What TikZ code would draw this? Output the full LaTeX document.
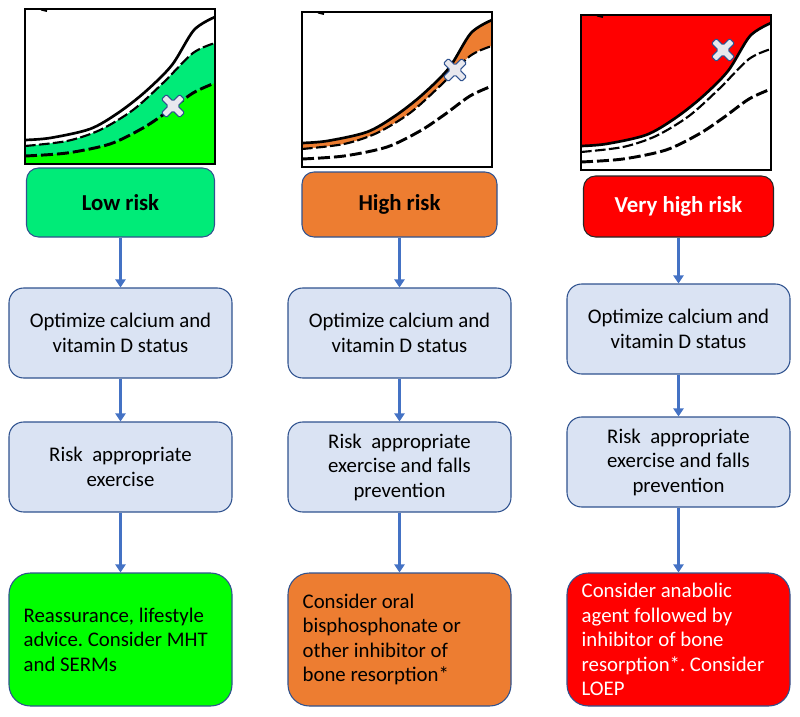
\documentclass[tikz,border=0pt]{standalone}
\usepackage{fontspec}
\setmainfont{Carlito}
\usetikzlibrary{arrows.meta}
\frenchspacing
\hyphenpenalty=10000

\definecolor{boxfill}{RGB}{218,227,243}
\definecolor{boxline}{RGB}{47,82,143}
\definecolor{flowblue}{RGB}{68,114,196}
\definecolor{lowgreen}{RGB}{0,235,120}
\definecolor{limegreen}{RGB}{0,255,0}
\definecolor{highorange}{RGB}{237,125,49}
\definecolor{veryred}{RGB}{255,0,0}
\definecolor{crossfill}{RGB}{232,232,238}

\begin{document}
\begin{tikzpicture}[x=0.75pt, y=-0.75pt,
  >={Triangle[length=6pt,width=7.5pt]},
  txt/.style={font=\fontsize{15.6pt}{18.4pt}\selectfont},
  stepbox/.style={txt, draw=boxline, fill=boxfill, line width=0.8pt, rounded corners=11pt,
    minimum width=167.25pt, minimum height=67.5pt, align=center},
  riskbox/.style={draw=boxline, line width=0.8pt, rounded corners=9pt,
    font=\bfseries\fontsize{17.1pt}{20pt}\selectfont},
  advicebox/.style={txt, draw=boxline, line width=0.8pt, rounded corners=16pt,
    minimum width=167.25pt, minimum height=99.75pt, text width=145.25pt, inner xsep=11pt, align=flush left},
  flow/.style={->, draw=flowblue, line width=2.2pt},
  frame/.style={draw=black, line width=1.1pt},
  solid curve/.style={line width=2pt},
  upper dash/.style={line width=1.6pt, dash pattern=on 8pt off 2.5pt},
  lower dash/.style={line width=2.2pt, dash pattern=on 9pt off 3pt},
  crossx/.style={draw=boxline, fill=crossfill, line width=0.8pt, rounded corners=1pt},
]
  \useasboundingbox (0,0) rectangle (800,717);

  % curves of the graphs (local pixels, box 190 x 155)
  \def\solidline{plot[smooth] coordinates {(0,131) (25,129) (65,120) (93,104) (120,83) (147,56) (169,21) (190,8)}}
  \def\upperline{plot[smooth] coordinates {(0,137) (42,132) (75,121) (108,101) (138,74) (168,44) (190,34)}}
  \def\lowerline{plot[smooth] coordinates {(0,147) (42,144) (85,135) (118,119) (142,103) (168,84) (190,74)}}
  \def\crosspath{(-3.5,-12.8) -- (3.5,-12.8) -- (3.5,-3.5) -- (12.8,-3.5) -- (12.8,3.5) -- (3.5,3.5) -- (3.5,12.8) -- (-3.5,12.8) -- (-3.5,3.5) -- (-12.8,3.5) -- (-12.8,-3.5) -- (-3.5,-3.5) -- cycle}

  % graph, low risk
  \begin{scope}[shift={(25,9)}]
    \fill[lowgreen] \upperline -- (190,155) -- (0,155) -- cycle;
    \fill[limegreen] \lowerline -- (190,155) -- (0,155) -- cycle;
    \draw[solid curve] \solidline;
    \draw[upper dash] \upperline;
    \draw[lower dash] \lowerline;
    \draw[line width=1.5pt] (16,0.5) -- (22,2);
    \draw[frame] (0,0) rectangle (190,155);
    \draw[crossx, shift={(148,97)}, rotate=45] \crosspath;
  \end{scope}

  % graph, high risk
  \begin{scope}[shift={(302,12)}]
    \fill[highorange] \solidline -- (190,155) -- (0,155) -- cycle;
    \fill[white] \upperline -- (190,155) -- (0,155) -- cycle;
    \draw[solid curve] \solidline;
    \draw[upper dash] \upperline;
    \draw[lower dash] \lowerline;
    \draw[line width=1.5pt] (16,0.5) -- (22,2);
    \draw[frame] (0,0) rectangle (190,155);
    \draw[crossx, shift={(153,58)}, rotate=45] \crosspath;
  \end{scope}

  % graph, very high risk
  \begin{scope}[shift={(581,15)}]
    \fill[veryred] \solidline -- (190,0) -- (0,0) -- cycle;
    \draw[solid curve] \solidline;
    \draw[upper dash] \upperline;
    \draw[lower dash] \lowerline;
    \draw[line width=1.5pt] (16,0.5) -- (22,2);
    \draw[frame] (0,0) rectangle (190,155);
    \draw[crossx, shift={(142,35)}, rotate=45] \crosspath;
  \end{scope}

  % risk boxes
  \node[riskbox, fill=lowgreen, minimum width=141pt, minimum height=51.75pt] (low) at (120.5,202.5) {Low risk};
  \node[riskbox, fill=highorange, minimum width=146.25pt, minimum height=48.75pt] (high) at (399.5,204.5) {High risk};
  \node[riskbox, draw=black!85, fill=veryred, text=white, minimum width=142.5pt, minimum height=45.75pt] (vhigh) at (678.5,206.5) {Very high risk};

  % steps
  \node[stepbox] (calc1) at (120.5,333) {Optimize calcium and\\vitamin D status};
  \node[stepbox] (calc2) at (399.5,333) {Optimize calcium and\\vitamin D status};
  \node[stepbox] (calc3) at (678.5,329) {Optimize calcium and\\vitamin D status};

  \node[stepbox] (ex1) at (120.5,467) {Risk\ \ appropriate\\exercise};
  \node[stepbox] (ex2) at (399.5,467) {Risk\ \ appropriate\\exercise and falls\\prevention};
  \node[stepbox] (ex3) at (678.5,462) {Risk\ \ appropriate\\exercise and falls\\prevention};

  % advice
  \node[advicebox, fill=limegreen] (adv1) at (120.5,639.5) {Reassurance, lifestyle\\advice. Consider MHT\\and SERMs};
  \node[advicebox, fill=highorange] (adv2) at (399.5,639.5) {Consider oral\\bisphosphonate or\\other inhibitor of\\bone resorption*};
  \node[advicebox, fill=veryred, text=white] (adv3) at (678.5,639.5) {Consider anabolic\\agent followed by\\inhibitor of bone\\resorption*. Consider\\LOEP};

  % arrows
  \draw[flow] (low) -- (calc1);
  \draw[flow] (calc1) -- (ex1);
  \draw[flow] (ex1) -- (adv1);
  \draw[flow] (high) -- (calc2);
  \draw[flow] (calc2) -- (ex2);
  \draw[flow] (ex2) -- (adv2);
  \draw[flow] (vhigh) -- (calc3);
  \draw[flow] (calc3) -- (ex3);
  \draw[flow] (ex3) -- (adv3);
\end{tikzpicture}
\end{document}
